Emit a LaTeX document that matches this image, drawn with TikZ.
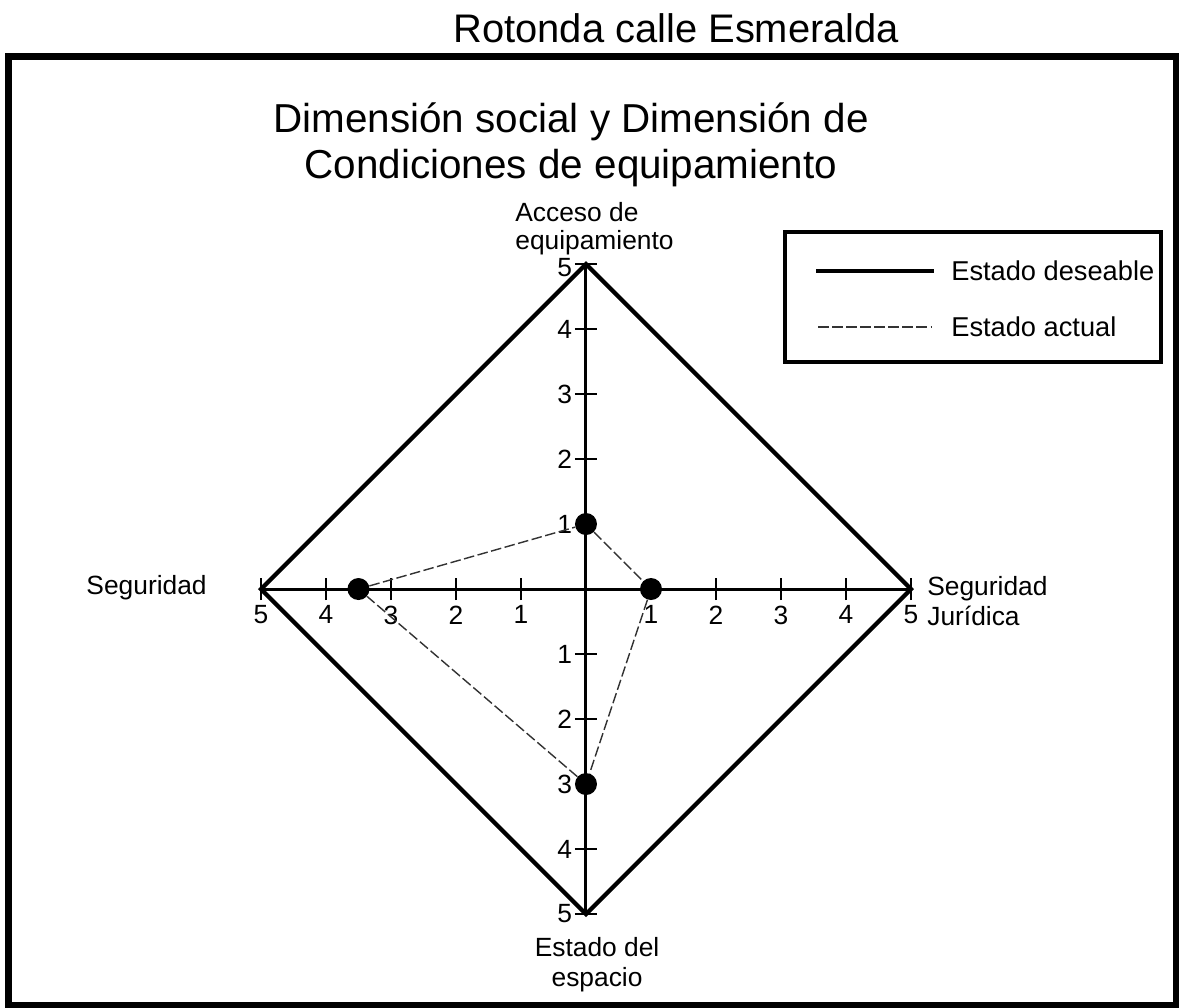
\documentclass[tikz,border=0pt]{standalone}
\usepackage{fontspec}
\setmainfont{Liberation Sans}
\begin{document}
\begin{tikzpicture}[x=1.3cm, y=1.3cm,
    desired/.style={line width=2.4pt},
    current/.style={line width=0.8pt, black!80, dash pattern=on 6pt off 2pt},
    axisline/.style={line width=1.7pt},
    tickmark/.style={line width=1.6pt},
    ticklbl/.style={font=\fontsize{15}{16}\selectfont, inner sep=1.5pt},
    axislbl/.style={font=\fontsize{15}{16}\selectfont, inner sep=0pt},
    datadot/.style={circle, fill=black, minimum size=0.44cm, inner sep=0pt}]
  \useasboundingbox (-9.015,-6.431) rectangle (9.123,9.062);
  \draw[line width=4pt] (-8.885,8.192) rectangle (9.077,-6.4);

  % titles
  \node[anchor=base, inner sep=0pt, font=\fontsize{22.7}{26}\selectfont] (place) at (1.39,8.415) {Rotonda calle Esmeralda};
  \node[anchor=base, inner sep=0pt, align=center, font=\fontsize{23}{26.6}\selectfont] (title) at (-0.23,6.31)
    {Dimensión social y Dimensión de\\Condiciones de equipamiento};

  % axis ends
  \coordinate (eTop) at (0,5);
  \coordinate (eRight) at (5,0);
  \coordinate (eBottom) at (0,-5);
  \coordinate (eLeft) at (-5,0);

  \draw[desired] (eTop) -- (eRight) -- (eBottom) -- (eLeft) -- cycle;
  \draw[axisline] (eLeft) -- (eRight);
  \draw[axisline] (eTop) -- (eBottom);

  % ticks and numbers
  \foreach \i in {1,...,5} {
    \draw[tickmark] (\i,-0.17) -- (\i,0.17);
    \draw[tickmark] (-\i,-0.17) -- (-\i,0.17);
    \draw[tickmark] (-0.17,\i) -- (0.17,\i);
    \draw[tickmark] (-0.17,-\i) -- (0.17,-\i);
    \node[ticklbl, anchor=north, inner sep=3pt] (xr\i) at (\i,-0.17) {\i};
    \node[ticklbl, anchor=north, inner sep=3pt] (xl\i) at (-\i,-0.17) {\i};
    \node[ticklbl, anchor=east] (yd\i) at (-0.17,-\i) {\i};
  }
  \foreach \i in {1,...,4}
    \node[ticklbl, anchor=east] (yu\i) at (-0.17,\i) {\i};
  \node[ticklbl, anchor=east] (yu5) at (-0.17,4.94) {5};

  % axis names
  \node[axislbl, anchor=south west, align=left] (lblTop) at (-1.092,5.13) {Acceso de\\equipamiento};
  \node[axislbl, anchor=base east] (lblLeft) at (-5.83,-0.09) {Seguridad};
  \node[axislbl, anchor=north west, align=left] (lblRight) at (5.246,0.2) {Seguridad\\[1pt]Jurídica};
  \node[axislbl, anchor=north, align=center] (lblBottom) at (0.17,-5.354) {Estado del\\[1pt]espacio};

  % current state
  \node[datadot] (pTop) at (0,1) {};
  \node[datadot] (pRight) at (1,0) {};
  \node[datadot] (pBottom) at (0,-3) {};
  \node[datadot] (pLeft) at (-3.5,0) {};
  \draw[current] (pTop) -- (pRight) -- (pBottom) -- (pLeft) -- (pTop);

  % legend
  \draw[line width=2pt] (3.06,5.49) rectangle (8.846,3.49);
  \node[axislbl, anchor=west, font=\fontsize{15.5}{17}\selectfont] (legDesired) at (5.615,4.89) {Estado deseable};
  \node[axislbl, anchor=west, font=\fontsize{15.5}{17}\selectfont] (legCurrent) at (5.615,4.03) {Estado actual};
  \coordinate (legDesiredStart) at (3.54,4.89);
  \coordinate (legCurrentStart) at (3.57,4.03);
  \draw[desired] (legDesiredStart) -- ([xshift=-0.34cm]legDesired.west);
  \draw[current] (legCurrentStart) -- ([xshift=-0.38cm]legCurrent.west);
\end{tikzpicture}
\end{document}
